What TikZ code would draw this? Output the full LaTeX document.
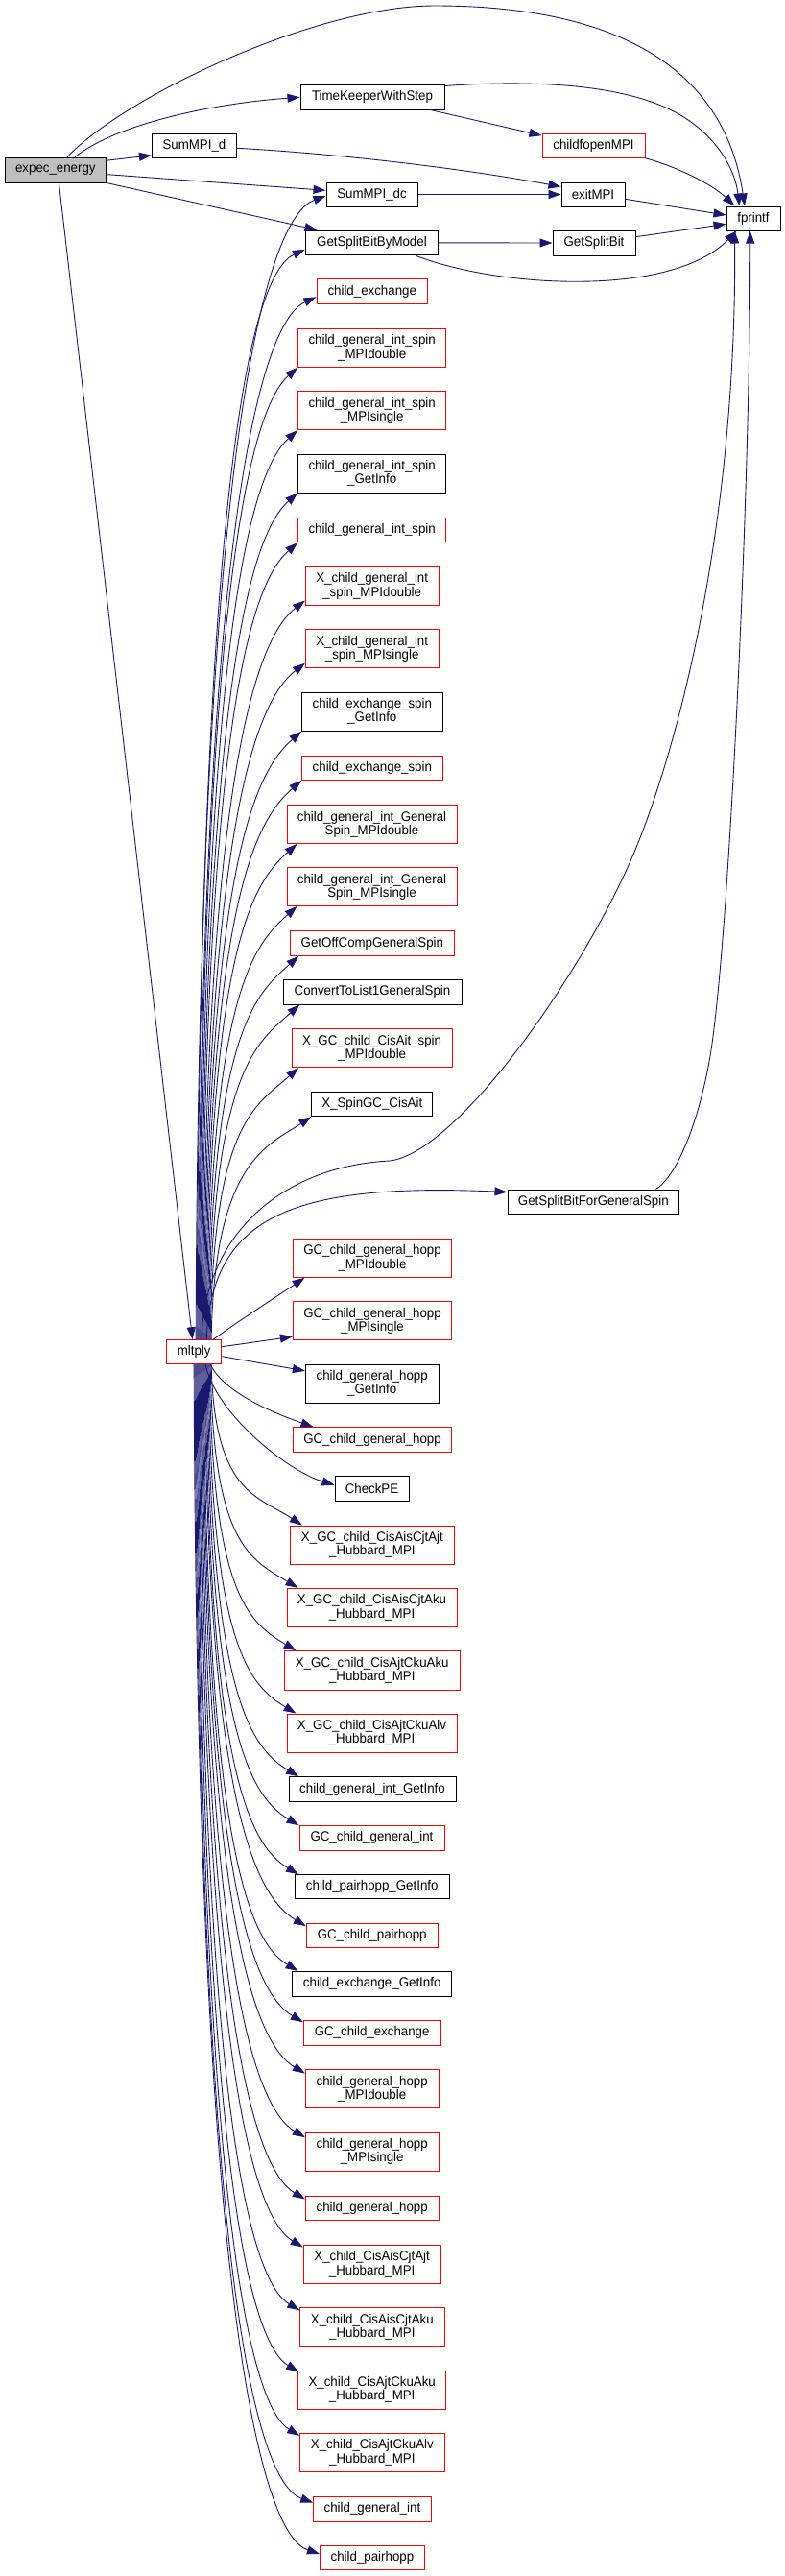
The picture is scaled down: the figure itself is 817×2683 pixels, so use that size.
\documentclass[tikz,border=0pt]{standalone}
\usepackage{fontspec}
\setmainfont{Liberation Sans}[FakeStretch=0.95]
\usetikzlibrary{arrows.meta}
\definecolor{edgec}{HTML}{191970}
\definecolor{gfill}{HTML}{BFBFBF}
\newcommand\fs{\fontsize{14}{14.2}\selectfont}
\newcommand\bxn[6]{\node[#1, minimum width=#4pt, minimum height=#5pt] (#2) at (#3) {#6};}
\newcommand\mup[4]{\draw[edge] ([xshift=#1pt]ml.north) .. controls +(3,-#2) and +(#3) .. (#4);}
\newcommand\mdn[4]{\draw[edge] ([xshift=#1pt]ml.south) .. controls +(3,#2) and +(#3) .. (#4);}
\begin{document}
\begin{tikzpicture}[x=1pt,y=-1pt,
 box/.style={draw=black, line width=1pt, inner sep=0pt, align=center, font=\fs, fill=white},
 rbox/.style={box, draw=red},
 gbox/.style={box, fill=gfill},
 edge/.style={draw=edgec, line width=0.9pt, -{Triangle[length=13pt,width=9pt]}},
]
\useasboundingbox (0,0) rectangle (817,2683);
\bxn{gbox}{ee}{57.85,177.15}{105.3}{25.7}{expec\_energy}
\bxn{box}{tk}{388,101.35}{150}{25.3}{TimeKeeperWithStep}
\bxn{box}{smd}{202.45,152.3}{88.1}{25}{SumMPI\_d}
\bxn{rbox}{cfo}{618.5,151.8}{107}{25}{childfopenMPI}
\bxn{box}{smdc}{387.5,202.5}{95}{25}{SumMPI\_dc}
\bxn{box}{ex}{618,202.5}{66}{25}{exitMPI}
\bxn{box}{fp}{785,227.5}{56}{25}{fprintf}
\bxn{box}{gsbm}{387.45,252.85}{138.1}{25.7}{GetSplitBitByModel}
\bxn{box}{gsb}{619,253}{86}{26}{GetSplitBit}
\bxn{rbox}{n10}{387.75,303.7}{115.5}{26}{child\_exchange}
\bxn{rbox}{n11}{387.7,362.3}{154.2}{40}{child\_general\_int\_spin\\\_MPIdouble}
\bxn{rbox}{n12}{387.7,427.7}{154.2}{40}{child\_general\_int\_spin\\\_MPIsingle}
\bxn{box}{n13}{387.7,493}{154.2}{40}{child\_general\_int\_spin\\\_GetInfo}
\bxn{rbox}{n14}{387.7,552}{154.2}{25.4}{child\_general\_int\_spin}
\bxn{rbox}{n15}{387.7,610.3}{138.6}{40}{X\_child\_general\_int\\\_spin\_MPIdouble}
\bxn{rbox}{n16}{387.7,675.7}{138.6}{40}{X\_child\_general\_int\\\_spin\_MPIsingle}
\bxn{box}{n17}{387.85,741.15}{146.3}{40}{child\_exchange\_spin\\\_GetInfo}
\bxn{rbox}{n18}{387.85,799.65}{146.3}{25.3}{child\_exchange\_spin}
\bxn{rbox}{n19}{387.5,858.5}{177}{40}{child\_general\_int\_General\\Spin\_MPIdouble}
\bxn{rbox}{n20}{387.5,923.5}{177}{40}{child\_general\_int\_General\\Spin\_MPIsingle}
\bxn{rbox}{n21}{387.9,982.5}{170.2}{25.6}{GetOffCompGeneralSpin}
\bxn{box}{n22}{388,1033.35}{186}{25.3}{ConvertToList1GeneralSpin}
\bxn{rbox}{n23}{387.65,1091.7}{166.7}{40}{X\_GC\_child\_CisAit\_spin\\\_MPIdouble}
\bxn{box}{n24}{387.75,1150}{126.1}{25.4}{X\_SpinGC\_CisAit}
\bxn{box}{gsbg}{618.35,1251.65}{178.7}{25.3}{GetSplitBitForGeneralSpin}
\bxn{rbox}{n26}{388,1310.3}{165.2}{40}{GC\_child\_general\_hopp\\\_MPIdouble}
\bxn{rbox}{n27}{388,1375.7}{165.2}{40}{GC\_child\_general\_hopp\\\_MPIsingle}
\bxn{rbox}{ml}{202.15,1408.2}{57.3}{25}{mltply}
\bxn{box}{n29}{387.7,1441}{138.6}{40}{child\_general\_hopp\\\_GetInfo}
\bxn{rbox}{n30}{388,1499.7}{165.2}{26}{GC\_child\_general\_hopp}
\bxn{box}{n31}{387.5,1550.5}{77}{25.6}{CheckPE}
\bxn{rbox}{n32}{387.9,1609.15}{170.2}{40.3}{X\_GC\_child\_CisAisCjtAjt\\\_Hubbard\_MPI}
\bxn{rbox}{n33}{387.5,1674.3}{177}{40}{X\_GC\_child\_CisAisCjtAku\\\_Hubbard\_MPI}
\bxn{rbox}{n34}{387.75,1739.85}{182.5}{40.3}{X\_GC\_child\_CisAjtCkuAku\\\_Hubbard\_MPI}
\bxn{rbox}{n35}{387.5,1805}{177}{40}{X\_GC\_child\_CisAjtCkuAlv\\\_Hubbard\_MPI}
\bxn{box}{n36}{388,1863.7}{174}{26}{child\_general\_int\_GetInfo}
\bxn{rbox}{n37}{387.5,1914.35}{151}{25.3}{GC\_child\_general\_int}
\bxn{box}{n38}{387.75,1965.2}{160.5}{25}{child\_pairhopp\_GetInfo}
\bxn{rbox}{n39}{387.7,2015.8}{136.6}{25}{GC\_child\_pairhopp}
\bxn{box}{n40}{387.7,2066.3}{165.8}{26}{child\_exchange\_GetInfo}
\bxn{rbox}{n41}{387.65,2117.15}{142.7}{25.7}{GC\_child\_exchange}
\bxn{rbox}{n42}{387.7,2175.7}{138.6}{40}{child\_general\_hopp\\\_MPIdouble}
\bxn{rbox}{n43}{387.7,2241.15}{138.6}{40.3}{child\_general\_hopp\\\_MPIsingle}
\bxn{rbox}{n44}{387.7,2299.8}{138.6}{25}{child\_general\_hopp}
\bxn{rbox}{n45}{387.65,2358.3}{142.7}{40}{X\_child\_CisAisCjtAjt\\\_Hubbard\_MPI}
\bxn{rbox}{n46}{387.85,2423.7}{150.3}{40}{X\_child\_CisAisCjtAku\\\_Hubbard\_MPI}
\bxn{rbox}{n47}{387.7,2489.15}{154.2}{40.3}{X\_child\_CisAjtCkuAku\\\_Hubbard\_MPI}
\bxn{rbox}{n48}{387.85,2554.3}{150.3}{40}{X\_child\_CisAjtCkuAlv\\\_Hubbard\_MPI}
\bxn{rbox}{n49}{387.95,2613.15}{122.5}{25.7}{child\_general\_int}
\bxn{rbox}{n50}{387.95,2663.85}{108.9}{25.7}{child\_pairhopp}
% expec_energy edges
\draw[edge] ([xshift=12pt]ee.north) .. controls (130,100) and (330,6) .. (453,6) .. controls (590,6) and (750,40) .. ([xshift=19.5pt]fp.north west);
\draw[edge] ([xshift=20pt]ee.north) .. controls +(42,-34) and +(-93,6.6) .. (tk.west);
\draw[edge] ([yshift=-3.4pt]ee.north east) -- ([yshift=3.5pt]smd.south west);
\draw[edge] ([yshift=-4.5pt]ee.east) -- ([yshift=4.2pt]smdc.west);
\draw[edge] (ee.south east) -- ([xshift=12.6pt]gsbm.north west);
\draw[edge] ([xshift=3.6pt]ee.south) -- ([xshift=-1.5pt]ml.north);
% upper part
\draw[edge] ([yshift=-1.3pt]tk.north east) .. controls (540,84) and (640,85) .. (700,115) .. controls (740,135) and (765,170) .. ([xshift=14pt]fp.north west);
\draw[edge] ([xshift=-15pt]tk.south east) -- ([yshift=-2.4pt]cfo.north west);
\draw[edge] ([yshift=-2pt]smd.east) .. controls (350,160) and (480,175) .. ([yshift=-5pt]ex.north west);
\draw[edge] (cfo.south east) .. controls (700,172) and (740,190) .. ([xshift=9pt]fp.north west);
\draw[edge] (smdc.east) -- (ex.west);
\draw[edge] ([yshift=-4.8pt]ex.east) -- ([yshift=3.5pt]fp.west);
\draw[edge] (gsbm.east) -- (gsb.west);
\draw[edge] ([yshift=6.3pt]gsb.east) -- ([yshift=-5.8pt]fp.west);
\draw[edge] ([xshift=-24pt]gsbm.south east) .. controls (520,300) and (700,310) .. ([xshift=11pt]fp.south west);
% mltply long edges
\draw[edge] ([xshift=8pt]ml.north) .. controls (212,1290) and (290,1215) .. (406,1209) .. controls (470,1202) and (590,1040) .. (651,910) .. controls (700,806) and (768,560) .. ([xshift=9pt]fp.south west);
\draw[edge] ([xshift=13pt]ml.north) .. controls +(5,-125.7) and +(-229,-10) .. ([yshift=-3pt]gsbg.north west);
\draw[edge] ([xshift=-24.7pt]gsbg.north east) .. controls (705,1225) and (728,1170) .. (740,1100) .. controls (760,980) and (782,500) .. ([xshift=-3.3pt]fp.south);
% mltply to nodes above
\mup{2}{953}{-60,22}{[yshift=-1.5pt]smdc.west}
\mup{3}{909}{-55,25}{[yshift=-7pt]gsbm.west}
\mup{4}{869}{-55,25}{[yshift=-5.6pt]n10.west}
\mup{5}{811}{-45,40}{n11.south west}
\mup{6}{759}{-45,40}{n12.south west}
\mup{7}{706}{-45,40}{n13.south west}
\mup{8}{665}{-45,40}{n14.south west}
\mup{9}{617}{-45,35}{[yshift=5.3pt]n15.south west}
\mup{10}{565}{-45,35}{[yshift=5.5pt]n16.south west}
\mup{11}{509}{-45,40}{n17.south west}
\mup{12}{467}{-45,40}{n18.south west}
\mup{13}{414}{-45,40}{[xshift=11pt]n19.south west}
\mup{14}{362}{-45,40}{[xshift=11pt]n20.south west}
\mup{15}{321}{-45,40}{[xshift=9pt]n21.south west}
\mup{16}{280}{-45,40}{[xshift=17.7pt]n22.south west}
\mup{17}{227}{-45,40}{[xshift=7.3pt]n23.south west}
\mup{18}{186}{-45,30}{n24.south west}
\draw[edge] ([xshift=20pt]ml.north) .. controls +(20,-15) and +(-30,20) .. ([xshift=12.6pt]n26.south west);
\draw[edge] ([yshift=5.5pt]ml.east) -- ([yshift=4pt]n27.south west);
\draw[edge] ([yshift=-4.5pt]ml.east) -- ([yshift=-7.3pt]n29.north west);
% mltply to nodes below
\draw[edge] ([xshift=17pt]ml.south) .. controls +(15,30) and +(-40,-14) .. ([xshift=21.6pt]n30.north west);
\draw[edge] ([xshift=12pt]ml.south) .. controls +(10,50) and +(-50,-15) .. ([yshift=3.8pt]n31.west);
\mdn{18}{135}{-45,-30}{[xshift=12.5pt]n32.north west}
\mdn{17}{187}{-50,-30}{[xshift=12pt]n33.north west}
\mdn{16}{239}{-50,-30}{[xshift=12.5pt]n34.north west}
\mdn{15}{291}{-50,-30}{[xshift=10pt]n35.north west}
\mdn{14}{344}{-50,-30}{[xshift=10.6pt]n36.north west}
\mdn{13}{385}{-50,-30}{n37.north west}
\mdn{12}{426}{-50,-30}{[xshift=4pt]n38.north west}
\mdn{11}{469}{-50,-30}{[yshift=-3.4pt]n39.north west}
\mdn{10}{506}{-50,-30}{[xshift=6.2pt]n40.north west}
\mdn{9}{549}{-50,-30}{[yshift=-2.4pt]n41.north west}
\mdn{8}{591}{-50,-30}{[yshift=-4.3pt]n42.north west}
\mdn{7}{645}{-50,-30}{[yshift=-5.7pt]n43.north west}
\mdn{6}{696}{-50,-30}{[yshift=-3.7pt]n44.north west}
\mdn{5}{736}{-50,-30}{[yshift=-2.7pt]n45.north west}
\mdn{4}{789}{-50,-30}{[yshift=-3pt]n46.north west}
\mdn{3}{840}{-50,-30}{[xshift=1pt,yshift=-1.7pt]n47.north west}
\mdn{2}{893}{-50,-30}{[yshift=-3pt]n48.north west}
\mdn{1}{949}{-60,-22}{[yshift=6.5pt]n49.west}
\mdn{0}{991}{-60,-20}{[yshift=3.85pt]n50.west}
\end{tikzpicture}
\end{document}
